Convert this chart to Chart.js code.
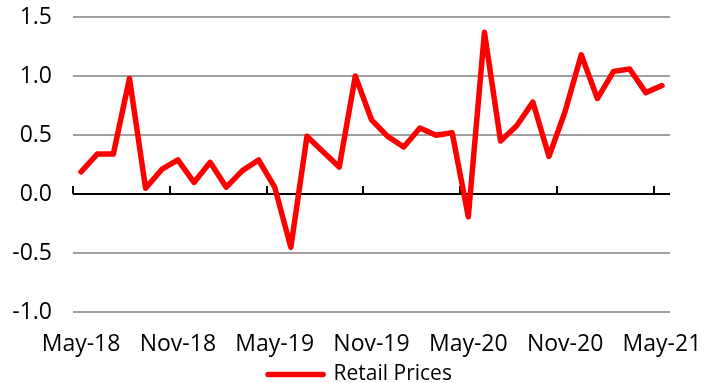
<!DOCTYPE html>
<html>
<head>
<meta charset="utf-8">
<script src="https://cdn.jsdelivr.net/npm/chart.js@4/dist/chart.umd.min.js"></script>
<style>
  html, body { margin: 0; padding: 0; background: #fff; }
  canvas { display: block; }
</style>
</head>
<body>
<canvas id="c" width="720" height="383"></canvas>
<script>
/* ===== data ===== */
const MONTHS = [
  'May-18','Jun-18','Jul-18','Aug-18','Sep-18','Oct-18','Nov-18','Dec-18',
  'Jan-19','Feb-19','Mar-19','Apr-19','May-19','Jun-19','Jul-19','Aug-19',
  'Sep-19','Oct-19','Nov-19','Dec-19','Jan-20','Feb-20','Mar-20','Apr-20',
  'May-20','Jun-20','Jul-20','Aug-20','Sep-20','Oct-20','Nov-20','Dec-20',
  'Jan-21','Feb-21','Mar-21','Apr-21','May-21'
];
const RETAIL_PRICES = [
  0.19, 0.34, 0.34, 0.98, 0.05, 0.21, 0.29, 0.10,
  0.27, 0.06, 0.20, 0.29, 0.06, -0.45, 0.49, 0.36,
  0.23, 1.00, 0.63, 0.49, 0.40, 0.56, 0.50, 0.52,
  -0.19, 1.37, 0.45, 0.58, 0.78, 0.32, 0.70, 1.18,
  0.81, 1.04, 1.06, 0.86, 0.92
];
const LABEL_EVERY = 6;   // one label per half-year

const FONT = '"Open Sans", "Noto Sans", sans-serif';

/* ===== zero axis with tick marks between months ===== */
const zeroAxis = {
  id: 'zeroAxis',
  beforeDatasetsDraw(chart) {
    const { ctx, chartArea, scales: { x, y } } = chart;
    const y0 = Math.round(y.getPixelForValue(0));
    ctx.save();
    ctx.strokeStyle = '#000';
    ctx.lineWidth = 2;
    ctx.beginPath();
    ctx.moveTo(chartArea.left, y0);
    ctx.lineTo(chartArea.right, y0);
    for (let i = 0; i < MONTHS.length; i += LABEL_EVERY) {
      const px = i === 0 ? chartArea.left
        : (x.getPixelForValue(i - 1) + x.getPixelForValue(i)) / 2;
      ctx.moveTo(Math.round(px), y0);
      ctx.lineTo(Math.round(px), y0 - 8);
    }
    ctx.stroke();
    ctx.restore();
  }
};

new Chart(document.getElementById('c').getContext('2d'), {
  type: 'line',
  data: {
    labels: MONTHS,
    datasets: [{
      label: 'Retail Prices',
      data: RETAIL_PRICES,
      borderColor: '#ff0000',
      backgroundColor: '#ff0000',
      borderWidth: 5.5,
      pointRadius: 0,
      tension: 0,
      borderJoinStyle: 'round',
      borderCapStyle: 'round'
    }]
  },
  options: {
    responsive: false,
    animation: false,
    layout: { padding: { left: 0, right: 0, top: 0, bottom: -12 } },
    scales: {
      x: {
        offset: true,
        grid: { display: false },
        border: { display: false },
        afterFit(scale) {
          scale.paddingRight = 50;   // room on the right, legend stays centred on the canvas
          scale.height -= 4;
        },
        ticks: {
          autoSkip: false,
          maxRotation: 0,
          minRotation: 0,
          padding: 10,
          color: '#000',
          font: { family: FONT, size: 23 },
          callback: (v, i) => (i % LABEL_EVERY === 0 ? MONTHS[i] : '')
        }
      },
      y: {
        min: -1,
        max: 1.5,
        afterFit(scale) {
          scale.width = 73;
          scale.paddingTop = 17;
          scale.paddingBottom = 0;
        },
        grid: {
          color: (c) => (c.tick && c.tick.value === 0 ? 'rgba(0,0,0,0)' : '#a0a0a0'),
          lineWidth: 2,
          drawTicks: false
        },
        border: { display: false },
        ticks: {
          stepSize: 0.5,
          padding: 21,
          color: '#000',
          font: { family: FONT, size: 23 },
          callback: (v) => Number(v).toFixed(1)
        }
      }
    },
    plugins: {
      legend: {
        position: 'bottom',
        labels: {
          boxWidth: 55,
          boxHeight: 0,
          padding: 0,
          color: '#000',
          font: { family: FONT, size: 21 }
        }
      },
      tooltip: { enabled: false }
    }
  },
  plugins: [zeroAxis]
});
</script>
</body>
</html>
